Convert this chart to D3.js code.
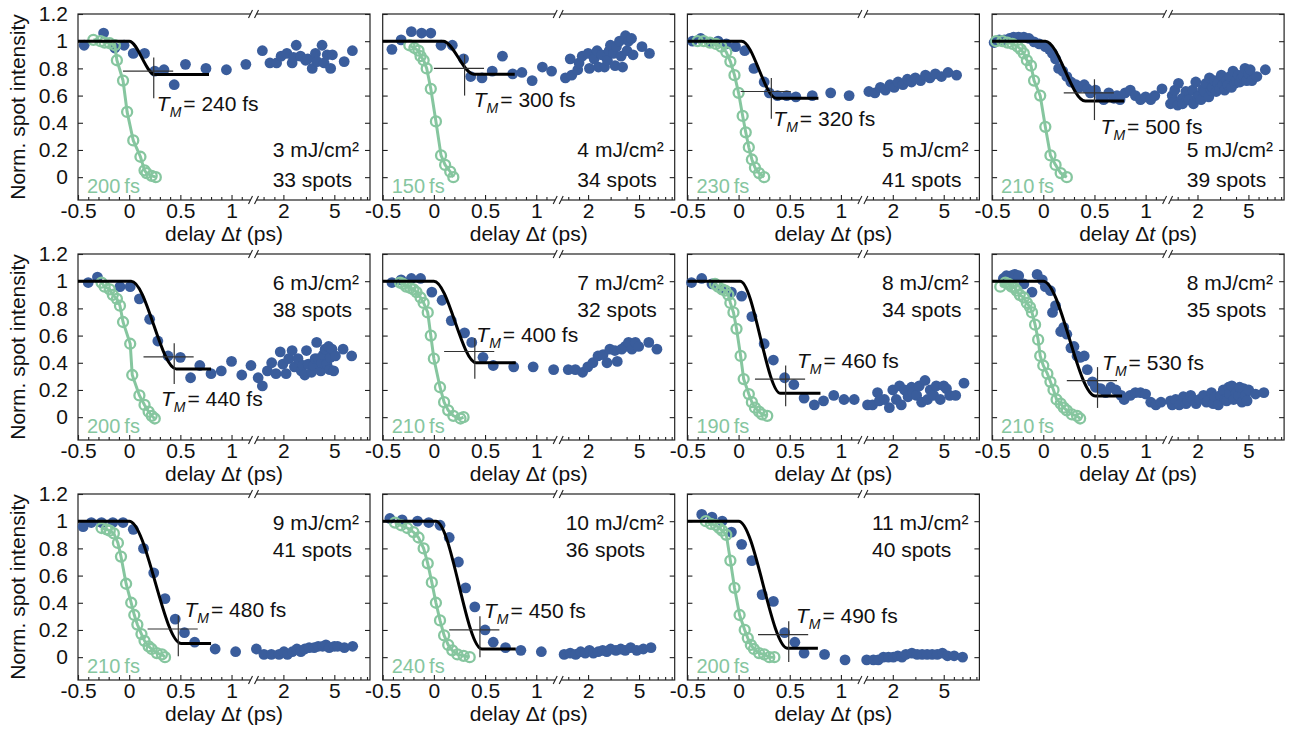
<!DOCTYPE html>
<html>
<head>
<meta charset="utf-8">
<script src="https://cdn.jsdelivr.net/npm/d3@7"></script>
<style>
  body { margin: 0; background: #fff; }
  text { font-family: "Liberation Sans", Arial, sans-serif; }
</style>
</head>
<body>
<div id="chart"></div>
<script>
// panel annotations
const fluence = [3, 4, 5, 5, 6, 7, 8, 8, 9, 10, 11];
const spots = [33, 34, 41, 39, 38, 32, 34, 35, 41, 36, 40];
const tmFs = [240, 300, 320, 500, 440, 400, 460, 530, 480, 450, 490];
const irfFs = [200, 150, 230, 210, 200, 210, 190, 210, 210, 240, 200];

// fit: flat at 1 until fitStart, reaches fitLevel at fitEnd, drawn up to fitStop (ps)
const fitStart = [0.0, 0.09, 0.03, 0.02, 0.02, 0.0, 0.015, 0.0, 0.0, 0.02, 0.0];
const fitEnd = [0.25, 0.39, 0.37, 0.41, 0.46, 0.415, 0.41, 0.51, 0.51, 0.47, 0.48];
const fitLevel = [0.755, 0.757, 0.58, 0.56, 0.355, 0.4, 0.175, 0.155, 0.1, 0.06, 0.065];
const fitStop = [0.78, 0.79, 0.78, 0.79, 0.8, 0.8, 0.8, 0.77, 0.8, 0.8, 0.775];
const crossLevel = [0.78, 0.8, 0.63, 0.62, 0.444, 0.483, 0.28, 0.268, 0.207, 0.2, 0.165];
const tmLabelAt = [[0.27, 0.54], [0.39, 0.57], [0.34, 0.43], [0.56, 0.375], [0.31, 0.134], [0.415, 0.61],
                   [0.57, 0.415], [0.575, 0.40], [0.54, 0.35], [0.49, 0.34], [0.56, 0.31]];

// x tick labels
const xTicksLin = [-0.5, 0, 0.5, 1];
const xTicksLog = [2, 5];
const yTicks = [0, 0.2, 0.4, 0.6, 0.8, 1, 1.2];

// measured spot intensities [delay ps, intensity]
const blue1 = [[-0.44,0.97],[-0.25,1.06],[-0.14,0.95],[-0.05,0.97],[0.04,0.91],[0.15,0.91],[0.25,0.78],[0.34,0.79],[0.44,0.68],[0.55,0.83],[0.75,0.80],[0.95,0.79],[1.14,0.83],
  [1.37,0.93],[1.57,0.84],[1.77,0.84],[1.92,0.89],[2.13,0.91],[2.34,0.84],[2.4,0.88],[2.52,0.97],[2.72,0.89],[2.98,0.86],[3.1,0.87],[3.36,0.80],[3.56,0.91],[3.67,0.85],[4.01,0.97],[4.16,0.84],[4.4,0.9],[4.68,0.80],[4.83,0.90],[5.97,0.85],[6.92,0.93]];
const blue2 = [[-0.41,0.94],[-0.32,1.01],[-0.22,1.07],[-0.12,1.06],[-0.03,1.06],[0.07,0.97],[0.18,0.97],[0.29,0.87],[0.36,0.74],[0.47,0.73],[0.57,0.78],[0.67,0.89],[0.77,0.76],[0.86,0.77],[0.96,0.71],[1.06,0.81],[1.15,0.78],
  [1.33,0.73],[1.45,0.87],[1.49,0.75],[1.66,0.79],[1.7,0.84],[1.8,0.89],[2.0,0.91],[2.05,0.8],[2.23,0.87],[2.35,0.93],[2.41,0.81],[2.55,0.9],[2.69,0.81],[2.83,0.86],[2.92,0.93],[2.99,0.97],[3.16,0.91],[3.25,0.82],[3.33,0.96],[3.52,1.0],[3.62,0.89],[3.72,0.81],[3.92,1.04],[4.03,0.93],[4.14,1.0],[4.37,1.02],[4.49,0.9],[5.27,0.96],[6.03,0.91]];
const blue3 = [[-0.45,1.0],[-0.37,1.02],[-0.28,0.99],[-0.2,1.0],[-0.12,0.98],[-0.03,0.96],[0.06,0.93],[0.15,0.8],[0.25,0.7],[0.3,0.62],[0.38,0.6],[0.47,0.6],[0.56,0.59],[0.72,0.6],[0.9,0.62],[1.08,0.6],
  [1.3,0.63],[1.45,0.62],[1.6,0.66],[1.75,0.64],[1.9,0.68],[2.05,0.66],[2.2,0.7],[2.4,0.68],[2.6,0.72],[2.8,0.7],[3.0,0.73],[3.3,0.71],[3.6,0.75],[3.9,0.73],[4.3,0.76],[4.8,0.74],[5.4,0.77],[6.3,0.75]];
const blue4 = [[-0.48,0.99],[-0.43,1.01],[-0.38,1.01],[-0.33,1.02],[-0.29,1.03],[-0.24,1.03],[-0.19,1.03],[-0.14,1.02],[-0.09,0.995],[-0.04,0.98],[0.02,0.96],[0.06,0.94],[0.09,0.91],[0.12,0.87],[0.15,0.8],[0.19,0.78],[0.23,0.74],[0.27,0.7],[0.32,0.68],[0.35,0.66],[0.4,0.68],[0.43,0.65],[0.46,0.62],[0.51,0.64],[0.56,0.59],[0.59,0.57],[0.64,0.62],[0.69,0.58],[0.72,0.6],[0.75,0.57],[0.8,0.62],[0.85,0.64],[0.9,0.6],[0.95,0.57],[1.0,0.59],[1.05,0.57],[1.09,0.6],[1.16,0.65],
  [1.23,0.54],[1.27,0.6],[1.3,0.55],[1.33,0.64],[1.4,0.53],[1.42,0.69],[1.52,0.58],[1.53,0.54],[1.62,0.63],[1.66,0.57],[1.72,0.57],[1.83,0.64],[1.86,0.54],[1.94,0.7],[2.0,0.59],[2.06,0.6],[2.13,0.57],[2.2,0.65],[2.26,0.63],[2.33,0.69],[2.45,0.59],[2.48,0.73],[2.56,0.64],[2.63,0.66],[2.71,0.71],[2.8,0.63],[2.89,0.69],[2.98,0.65],[3.07,0.75],[3.16,0.68],[3.26,0.64],[3.36,0.71],[3.46,0.68],[3.57,0.74],[3.68,0.66],[3.79,0.78],[3.91,0.69],[4.03,0.71],[4.16,0.75],[4.29,0.7],[4.42,0.73],[4.56,0.75],[4.7,0.8],[4.85,0.71],[5.0,0.76],[5.16,0.79],[5.32,0.71],[5.82,0.74],[6.78,0.79]];
const blue5 = [[-0.4,0.99],[-0.31,1.03],[-0.09,0.96],[0.01,0.96],[0.1,0.87],[0.2,0.72],[0.28,0.56],[0.38,0.45],[0.5,0.44],[0.6,0.29],[0.69,0.38],[0.8,0.32],[0.9,0.34],[1.0,0.41],[1.1,0.31],[1.19,0.38],
  [1.27,0.29],[1.37,0.23],[1.5,0.34],[1.62,0.4],[1.75,0.32],[1.89,0.48],[1.98,0.39],[2.1,0.32],[2.2,0.43],[2.34,0.49],[2.44,0.37],[2.6,0.43],[2.76,0.34],[2.85,0.38],[2.94,0.31],[3.03,0.49],[3.13,0.39],[3.32,0.33],[3.43,0.38],[3.54,0.43],[3.64,0.55],[3.75,0.43],[3.92,0.34],[4.0,0.4],[4.11,0.46],[4.24,0.5],[4.37,0.39],[4.51,0.52],[4.6,0.35],[4.65,0.44],[4.79,0.5],[4.94,0.34],[5.1,0.45],[5.85,0.5],[6.83,0.45]];
const blue6 = [[-0.41,0.99],[-0.32,1.01],[-0.22,1.02],[-0.13,1.02],[-0.02,0.92],[0.08,0.86],[0.17,0.71],[0.3,0.62],[0.37,0.55],[0.48,0.44],[0.58,0.38],[0.78,0.37],[0.97,0.37],[1.17,0.35],
  [1.4,0.35],[1.59,0.35],[1.81,0.33],[1.99,0.37],[2.18,0.4],[2.39,0.45],[2.62,0.46],[2.81,0.4],[2.96,0.5],[3.24,0.49],[3.38,0.41],[3.66,0.5],[3.89,0.52],[4.14,0.55],[4.4,0.5],[4.68,0.55],[4.97,0.52],[5.96,0.55],[6.9,0.5]];
const blue7 = [[-0.46,0.99],[-0.36,1.02],[-0.26,0.98],[-0.16,0.94],[-0.07,0.92],[0.03,0.89],[0.13,0.74],[0.25,0.54],[0.34,0.42],[0.45,0.29],[0.54,0.24],[0.64,0.14],[0.74,0.09],[0.83,0.12],[0.93,0.16],[1.03,0.13],[1.13,0.13],
  [1.27,0.09],[1.39,0.09],[1.52,0.18],[1.57,0.12],[1.72,0.13],[1.88,0.07],[2.0,0.2],[2.13,0.13],[2.26,0.23],[2.33,0.09],[2.47,0.2],[2.63,0.15],[2.8,0.22],[2.88,0.18],[3.07,0.16],[3.22,0.23],[3.36,0.11],[3.57,0.27],[3.73,0.13],[3.92,0.2],[4.17,0.16],[4.37,0.23],[4.7,0.13],[5.0,0.23],[5.25,0.21],[5.57,0.16],[6.2,0.16],[7.2,0.25]];
const blue8 = [[-0.39,1.02],[-0.36,1.04],[-0.31,1.04],[-0.28,1.05],[-0.24,1.04],[-0.19,0.98],[-0.11,0.92],[-0.06,1.05],[-0.01,1.01],[0.02,0.96],[0.07,0.93],[0.09,0.77],[0.12,0.82],[0.17,0.63],[0.2,0.66],[0.23,0.61],[0.27,0.51],[0.3,0.52],[0.33,0.45],[0.36,0.44],[0.4,0.45],[0.43,0.35],[0.48,0.26],[0.51,0.22],[0.56,0.21],[0.61,0.18],[0.66,0.22],[0.71,0.2],[0.76,0.16],[0.79,0.13],[0.85,0.16],[0.9,0.18],[0.95,0.18],[1.0,0.17],[1.05,0.11],[1.1,0.09],[1.15,0.11],
  [1.23,0.12],[1.27,0.09],[1.35,0.13],[1.44,0.09],[1.55,0.15],[1.63,0.1],[1.68,0.12],[1.77,0.16],[1.84,0.13],[1.95,0.1],[2.07,0.13],[2.23,0.16],[2.35,0.11],[2.41,0.12],[2.57,0.18],[2.65,0.1],[2.73,0.15],[2.91,0.09],[3.03,0.16],[3.18,0.2],[3.28,0.13],[3.38,0.12],[3.5,0.22],[3.55,0.17],[3.71,0.23],[3.83,0.13],[4.01,0.18],[4.19,0.16],[4.27,0.22],[4.45,0.11],[4.59,0.21],[4.73,0.16],[4.88,0.12],[5.03,0.2],[5.68,0.17],[6.6,0.18]];
const blue9 = [[-0.45,0.96],[-0.37,0.99],[-0.27,0.99],[-0.16,0.99],[-0.06,0.99],[0.04,0.94],[0.14,0.8],[0.24,0.62],[0.35,0.43],[0.45,0.28],[0.54,0.18],[0.64,0.11],[0.84,0.06],[1.04,0.04],
  [1.23,0.06],[1.41,0.02],[1.61,0.02],[1.85,0.02],[2.02,0.04],[2.15,0.02],[2.35,0.04],[2.55,0.06],[2.74,0.04],[2.94,0.06],[3.18,0.07],[3.48,0.07],[3.74,0.08],[4.05,0.08],[4.3,0.09],[4.56,0.07],[5.0,0.08],[5.31,0.08],[5.99,0.07],[6.96,0.08]];
const blue10 = [[-0.43,1.02],[-0.31,1.01],[-0.16,1.0],[-0.05,0.99],[0.06,0.97],[0.15,0.88],[0.24,0.7],[0.31,0.51],[0.4,0.37],[0.5,0.2],[0.58,0.11],[0.7,0.07],[0.85,0.05],[1.05,0.04],
  [1.3,0.02],[1.45,0.03],[1.6,0.02],[1.75,0.04],[1.9,0.03],[2.05,0.05],[2.2,0.03],[2.4,0.04],[2.6,0.05],[2.8,0.04],[3.0,0.06],[3.3,0.05],[3.6,0.06],[3.9,0.05],[4.3,0.07],[4.8,0.05],[5.4,0.06],[6.2,0.07]];
const blue11 = [[-0.36,1.05],[-0.26,1.03],[-0.16,1.0],[-0.07,0.92],[0.03,0.83],[0.13,0.71],[0.23,0.46],[0.34,0.41],[0.45,0.18],[0.55,0.11],[0.64,0.03],[0.84,0.02],[1.04,-0.02],
  [1.25,-0.02],[1.41,-0.02],[1.54,-0.02],[1.69,0.0],[1.85,0.0],[2.02,0.0],[2.19,0.01],[2.36,0.0],[2.53,0.02],[2.82,0.03],[3.1,0.02],[3.39,0.02],[3.71,0.02],[4.06,0.02],[4.45,0.02],[4.88,0.03],[5.35,0.01],[6.03,0.01],[7.02,0.0]];

// reference traces (open circles)
const green1 = [[-0.35,1.01],[-0.28,1.0],[-0.24,0.99],[-0.19,0.985],[-0.14,0.97],[-0.12,0.86],[-0.06,0.71],[-0.02,0.48],[0.04,0.27],[0.11,0.15],[0.15,0.05],[0.17,0.03],[0.22,0.01],[0.26,0.0]];
const green2 = [[-0.24,0.97],[-0.19,0.95],[-0.15,0.93],[-0.13,0.89],[-0.1,0.86],[-0.07,0.8],[-0.03,0.65],[0.02,0.41],[0.07,0.16],[0.11,0.09],[0.16,0.04],[0.19,0.0]];
const green3 = [[-0.4,1.0],[-0.34,1.0],[-0.28,0.99],[-0.22,0.98],[-0.17,0.96],[-0.12,0.92],[-0.08,0.85],[-0.04,0.75],[0.0,0.62],[0.04,0.45],[0.07,0.33],[0.1,0.22],[0.13,0.13],[0.16,0.07],[0.2,0.03],[0.25,0.0]];
const green4 = [[-0.46,1.0],[-0.4,1.0],[-0.35,0.99],[-0.3,0.98],[-0.25,0.96],[-0.22,0.94],[-0.19,0.91],[-0.16,0.86],[-0.12,0.82],[-0.09,0.71],[-0.03,0.6],[0.02,0.37],[0.07,0.16],[0.12,0.09],[0.17,0.03],[0.23,0.0]];
const green5 = [[-0.27,0.99],[-0.24,0.96],[-0.19,0.94],[-0.16,0.9],[-0.12,0.87],[-0.09,0.82],[-0.06,0.7],[0.01,0.54],[0.03,0.31],[0.1,0.16],[0.15,0.09],[0.19,0.04],[0.22,0.01],[0.25,-0.01]];
const green6 = [[-0.33,0.99],[-0.3,0.98],[-0.27,0.96],[-0.23,0.95],[-0.2,0.94],[-0.17,0.92],[-0.13,0.88],[-0.1,0.84],[-0.06,0.77],[-0.03,0.6],[0.0,0.43],[0.06,0.22],[0.1,0.11],[0.14,0.05],[0.19,0.01],[0.26,-0.01],[0.29,0.0]];
const green7 = [[-0.23,0.98],[-0.2,0.96],[-0.16,0.94],[-0.13,0.93],[-0.1,0.9],[-0.08,0.84],[-0.05,0.77],[-0.02,0.65],[0.02,0.45],[0.05,0.28],[0.1,0.17],[0.13,0.11],[0.16,0.07],[0.2,0.04],[0.23,0.02],[0.28,0.01]];
const green8 = [[-0.42,0.96],[-0.37,0.99],[-0.34,0.98],[-0.31,0.96],[-0.28,0.95],[-0.26,0.93],[-0.23,0.9],[-0.19,0.88],[-0.16,0.84],[-0.13,0.81],[-0.11,0.77],[-0.08,0.68],[-0.05,0.57],[-0.03,0.45],[0.0,0.38],[0.04,0.32],[0.07,0.26],[0.1,0.2],[0.13,0.13],[0.17,0.1],[0.2,0.07],[0.23,0.05],[0.28,0.02],[0.33,0.01],[0.36,-0.01]];
const green9 = [[-0.27,0.95],[-0.22,0.94],[-0.19,0.93],[-0.15,0.91],[-0.11,0.84],[-0.08,0.74],[-0.03,0.54],[0.02,0.4],[0.05,0.31],[0.08,0.24],[0.12,0.17],[0.15,0.12],[0.19,0.08],[0.22,0.06],[0.27,0.03],[0.32,0.02],[0.35,0.0]];
const green10 = [[-0.38,0.99],[-0.32,0.97],[-0.26,0.95],[-0.2,0.92],[-0.15,0.88],[-0.1,0.8],[-0.06,0.69],[-0.02,0.55],[0.02,0.4],[0.06,0.27],[0.1,0.16],[0.14,0.09],[0.18,0.05],[0.23,0.02],[0.29,0.01],[0.35,0.0]];
const green11 = [[-0.32,1.0],[-0.27,0.98],[-0.22,0.97],[-0.19,0.95],[-0.16,0.93],[-0.12,0.9],[-0.08,0.71],[-0.04,0.51],[0.01,0.31],[0.06,0.2],[0.09,0.14],[0.12,0.09],[0.15,0.06],[0.2,0.03],[0.25,0.02],[0.3,0.0],[0.35,0.0]];

const blueDots = [blue1, blue2, blue3, blue4, blue5, blue6, blue7, blue8, blue9, blue10, blue11];
const greenDots = [green1, green2, green3, green4, green5, green6, green7, green8, green9, green10, green11];

const BLUE = "#3a5d9c", GREEN = "#86c69f", AXIS = "#222";
const W = 1298, H = 733;
const pw = 292, ph = 186;
const left0 = 78, top0 = 14, stepX = 304.7, stepY = 240;

const svg = d3.select("#chart").append("svg")
    .attr("width", W)
    .attr("height", H);
svg.append("rect").attr("width", W).attr("height", H).attr("fill", "#fff");

function styleAxis(sel) {
    sel.select(".domain").remove();
    sel.selectAll("line").attr("stroke", AXIS).attr("stroke-width", 1.1);
    sel.selectAll("text").attr("font-size", 21).attr("fill", "#111")
        .attr("font-family", '"Liberation Sans", Arial, sans-serif');
}

function drawPanel(i) {
    const col = i % 4, row = Math.floor(i / 4);
    const g = svg.append("g")
        .attr("transform", `translate(${left0 + col * stepX},${top0 + row * stepY})`);

    const xa = d3.scaleLinear().domain([-0.5, 1.2]).range([0, 174]);
    const xb = d3.scaleLog().domain([1.2, 9.5]).range([177, pw]);
    const x = t => t <= 1.2 ? xa(t) : xb(t);
    const y = d3.scaleLinear().domain([-0.168, 1.2]).range([ph, 0]);

    // axes, ticks pointing inward
    g.append("g").attr("transform", `translate(0,${ph})`)
        .call(d3.axisBottom(xa).tickValues(xTicksLin).tickFormat(d => String(d)).tickSizeInner(-5).tickSizeOuter(0).tickPadding(3))
        .call(styleAxis);
    g.append("g").attr("transform", `translate(0,${ph})`)
        .call(d3.axisBottom(xa).tickValues([-0.4,-0.3,-0.2,-0.1,0.1,0.2,0.3,0.4,0.6,0.7,0.8,0.9,1.1]).tickFormat("").tickSizeInner(-3).tickSizeOuter(0))
        .call(styleAxis);
    g.append("g").attr("transform", `translate(0,${ph})`)
        .call(d3.axisBottom(xb).tickValues(xTicksLog).tickFormat(d => String(d)).tickSizeInner(-5).tickSizeOuter(0).tickPadding(3))
        .call(styleAxis);
    g.append("g").attr("transform", `translate(0,${ph})`)
        .call(d3.axisBottom(xb).tickValues([1.4, 1.7, 3, 4, 6, 7, 8, 9]).tickFormat("").tickSizeInner(-3).tickSizeOuter(0))
        .call(styleAxis);
    g.append("g")
        .call(d3.axisLeft(y).tickValues(yTicks).tickFormat(col === 0 ? (d => String(d)) : "").tickSizeInner(-5).tickSizeOuter(0).tickPadding(10))
        .call(styleAxis);
    g.append("g").attr("transform", `translate(${pw},0)`)
        .call(d3.axisRight(y).tickValues(yTicks).tickFormat("").tickSizeInner(-5).tickSizeOuter(0))
        .call(styleAxis);

    g.append("rect").attr("width", pw).attr("height", ph)
        .attr("fill", "none").attr("stroke", AXIS).attr("stroke-width", 1.2);

    // axis break marks
    const bx = 175.5;
    [0, ph].forEach(yy => {
        g.append("rect").attr("x", bx - 3).attr("y", yy - 2).attr("width", 6).attr("height", 4).attr("fill", "#fff");
        [-3, 3].forEach(o => {
            g.append("line")
                .attr("x1", bx + o - 2).attr("y1", yy + 4)
                .attr("x2", bx + o + 2).attr("y2", yy - 4)
                .attr("stroke", AXIS).attr("stroke-width", 1.1);
        });
    });

    // data
    g.selectAll("circle.spot").data(blueDots[i]).enter().append("circle")
        .attr("class", "spot")
        .attr("cx", d => x(d[0])).attr("cy", d => y(d[1]))
        .attr("r", 5.4).attr("fill", BLUE);

    g.append("path").datum(greenDots[i])
        .attr("d", d3.line().x(d => x(d[0])).y(d => y(d[1])))
        .attr("fill", "none").attr("stroke", GREEN).attr("stroke-width", 3);
    g.selectAll("circle.ref").data(greenDots[i]).enter().append("circle")
        .attr("class", "ref")
        .attr("cx", d => x(d[0])).attr("cy", d => y(d[1]))
        .attr("r", 5).attr("fill", "none").attr("stroke", GREEN).attr("stroke-width", 2.3);

    const fit = [[-0.5, 1], [fitStart[i], 1], [fitEnd[i], fitLevel[i]], [fitStop[i], fitLevel[i]]];
    g.append("path").datum(fit)
        .attr("d", d3.line().x(d => x(d[0])).y(d => y(d[1])).curve(d3.curveMonotoneX))
        .attr("fill", "none").attr("stroke", "#000").attr("stroke-width", 3);

    // T_M cross
    const tm = tmFs[i] / 1000, yc = crossLevel[i];
    g.append("line")
        .attr("x1", x(tm - 0.3)).attr("x2", x(tm + 0.19))
        .attr("y1", y(yc)).attr("y2", y(yc))
        .attr("stroke", "#333").attr("stroke-width", 1.2);
    g.append("line")
        .attr("x1", x(tm)).attr("x2", x(tm))
        .attr("y1", y(yc + 0.1)).attr("y2", y(yc - 0.2))
        .attr("stroke", "#333").attr("stroke-width", 1.2);

    const tl = g.append("text")
        .attr("x", x(tmLabelAt[i][0])).attr("y", y(tmLabelAt[i][1]) + 7.5)
        .attr("font-size", 21).attr("fill", "#111");
    tl.append("tspan").attr("font-style", "italic").text("T");
    tl.append("tspan").attr("font-style", "italic").attr("font-size", 14).attr("dy", 6).text("M");
    tl.append("tspan").attr("dy", -6).attr("dx", 2).text(`= ${tmFs[i]} fs`);

    // fluence / spots
    const fv = row === 0 ? [0.2, -0.02] : [0.99, 0.795];
    const ft = g.append("text")
        .attr("x", pw - 11).attr("y", y(fv[0]) + 7.5)
        .attr("text-anchor", "end").attr("font-size", 21).attr("fill", "#111")
        .text(`${fluence[i]} mJ/cm²`);
    const fx = ft.node().getBBox().x;
    g.append("text")
        .attr("x", fx).attr("y", y(fv[1]) + 7.5)
        .attr("font-size", 21).attr("fill", "#111")
        .text(`${spots[i]} spots`);

    g.append("text")
        .attr("x", 9).attr("y", ph - 7)
        .attr("font-size", 20).attr("fill", GREEN)
        .text(`${irfFs[i]}\u2009fs`);

    // x title
    const xt = g.append("text")
        .attr("x", pw / 2).attr("y", ph + 41)
        .attr("text-anchor", "middle").attr("font-size", 21).attr("fill", "#111");
    xt.append("tspan").text("delay \u0394");
    xt.append("tspan").attr("font-style", "italic").text("t");
    xt.append("tspan").text(" (ps)");

    if (col === 0) {
        svg.append("text")
            .attr("transform", `translate(25,${top0 + row * stepY + ph / 2}) rotate(-90)`)
            .attr("text-anchor", "middle").attr("font-size", 21).attr("fill", "#111")
            .text("Norm. spot intensity");
    }
}

for (let i = 0; i < 11; i++) drawPanel(i);
</script>
</body>
</html>
